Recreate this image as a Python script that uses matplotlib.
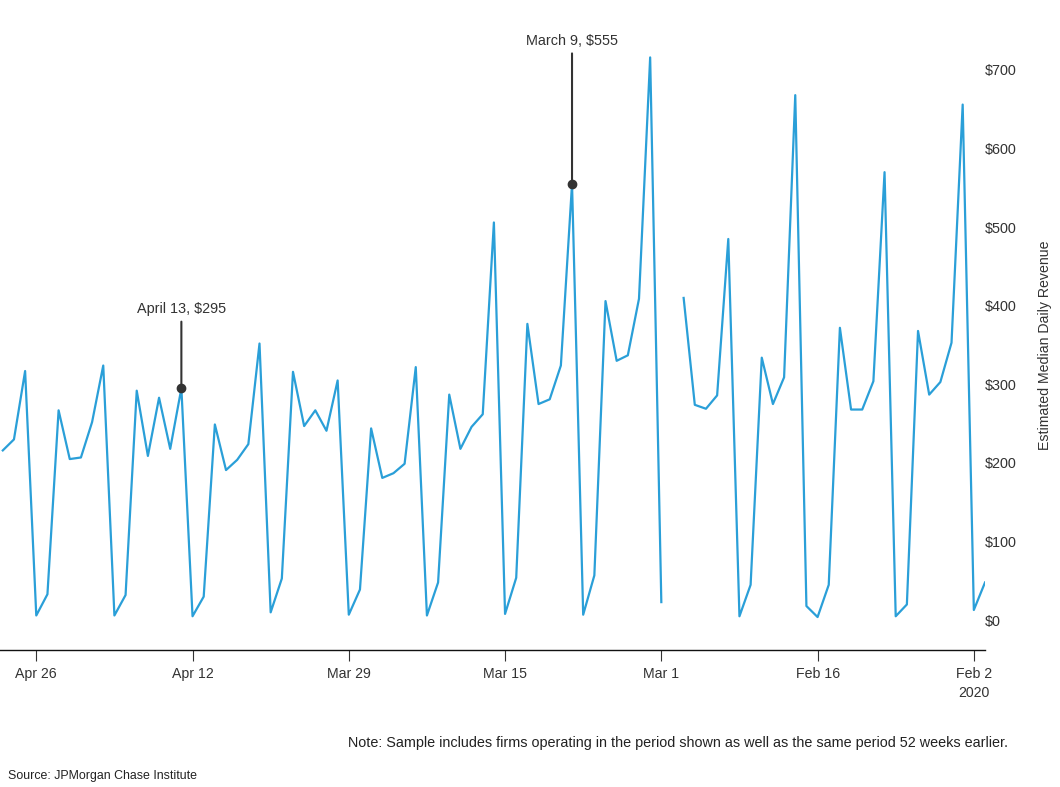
import matplotlib as mpl

mpl.use("Agg")
import matplotlib.pyplot as plt
import numpy as np
import pandas as pd

plt.rcParams["font.family"] = ["Liberation Sans", "DejaVu Sans"]

BLUE, INK = "#2a9fd8", "#333333"

dates = pd.date_range("2020-02-01", "2020-04-29", freq="D")
revenue = [
    # Feb 1 - Feb 29
    48, 13, 656, 353, 303, 287, 368, 20, 5, 570, 304, 268, 268, 372, 45,
    4, 18, 668, 309, 275, 334, 45, 5, 485, 286, 269, 274, 410, np.nan,
    # Mar 1 - Mar 31
    23, 716, 409, 337, 330, 406, 57, 7, 555, 324, 281, 275, 377, 54, 8,
    506, 262, 246, 218, 287, 48, 6, 322, 199, 187, 181, 244, 39, 7, 305, 241,
    # Apr 1 - Apr 29
    267, 247, 316, 53, 10, 352, 224, 204, 191, 249, 30, 5, 295, 218, 283,
    209, 292, 32, 6, 324, 252, 207, 205, 267, 33, 6, 317, 230, 216,
]
tick_dates = pd.to_datetime(["2020-02-02", "2020-02-16", "2020-03-01", "2020-03-15",
                             "2020-03-29", "2020-04-12", "2020-04-26"])
tick_labels = ["Feb 2\n2020", "Feb 16", "Mar 1", "Mar 15", "Mar 29", "Apr 12", "Apr 26"]
y_ticks = [0, 100, 200, 300, 400, 500, 600, 700]
callouts = [("2020-03-09", 555, "March 9, $555", 98), ("2020-04-13", 295, "April 13, $295", 52)]

fig = plt.figure(figsize=(10.6, 7.87), dpi=100, facecolor="white")
ax = fig.add_axes([0.0, 0.174, 985 / 1060, 0.797])

ax.plot(dates, revenue, color=BLUE, lw=1.6)

ax.set_xlim(pd.Timestamp("2020-04-29 06:00"), pd.Timestamp("2020-02-01"))
ax.set_ylim(-38, 760)

ax.set_xticks(tick_dates)
ax.set_xticklabels(tick_labels, fontsize=10.2, color=INK, linespacing=1.45)
ax.tick_params(axis="x", length=8, width=0.8, color=INK, pad=4)

ax.yaxis.tick_right()
ax.set_yticks(y_ticks)
ax.set_yticklabels([f"${v}" for v in y_ticks], fontsize=10.4, color=INK)
ax.tick_params(axis="y", length=0, pad=0)

for side in ("top", "left", "right"):
    ax.spines[side].set_visible(False)
ax.spines["bottom"].set_color("#111111")
ax.spines["bottom"].set_linewidth(1.0)

for day, val, label, rise in callouts:
    d = pd.Timestamp(day)
    ax.plot([d], [val], "o", color=INK, ms=6, zorder=5)
    ax.annotate(label, xy=(d, val), xytext=(0, rise), textcoords="offset points",
                ha="center", va="bottom", fontsize=10.4, color=INK,
                arrowprops=dict(arrowstyle="-", color=INK, lw=1.5,
                                shrinkA=2, shrinkB=0, relpos=(0.5, 0)))

fig.text(1045 / 1060, 1 - 345 / 787, "Estimated Median Daily Revenue", rotation=90,
         ha="center", va="center", fontsize=10.2, color=INK)
fig.text(1008 / 1060, 1 - 743 / 787,
         "Note: Sample includes firms operating in the period shown as well as the same period 52 weeks earlier.",
         ha="right", va="center", fontsize=10.4, color="#222222")
fig.text(8 / 1060, 1 - 776 / 787, "Source: JPMorgan Chase Institute",
         ha="left", va="center", fontsize=8.9, color="#222222")

fig.savefig("out.png", dpi=100, facecolor="white")
